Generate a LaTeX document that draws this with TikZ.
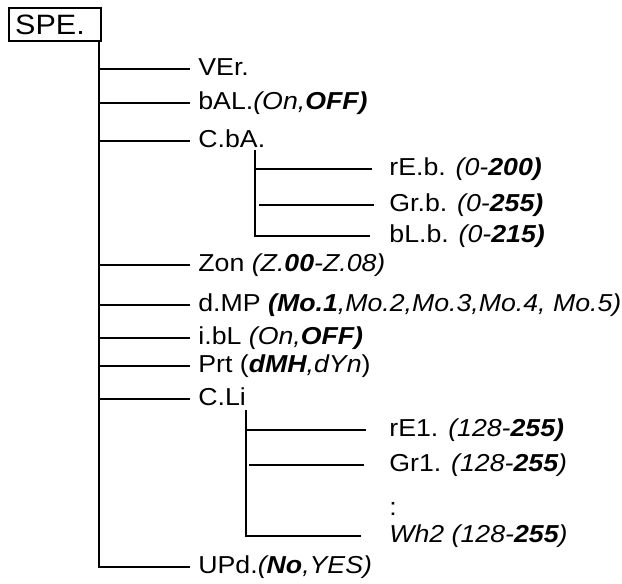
\documentclass[tikz,border=0pt]{standalone}
\usepackage{fontspec}
\setmainfont{Liberation Sans}[FakeStretch=1.09]
\usetikzlibrary{calc}

\begin{document}
\begin{tikzpicture}[x=1pt, y=-1pt, line width=2.8pt,
    item/.style={anchor=west, inner sep=0pt, font=\fontsize{24.5}{29}\selectfont,
                 text height=18pt, text depth=6pt}]

    % 画像の大きさ
    \useasboundingbox (0,0) rectangle (622,584);

    % 一番上の箱
    \node[draw, line width=2.4pt, anchor=north west, minimum width=92pt, minimum height=33pt,
          inner xsep=6pt, text width=80pt, align=left,
          font=\fontsize{28}{32}\selectfont] (spe) at (8,7) {SPE.};
    \coordinate (trunk) at (99,40);

    % 第一階層の項目
    \foreach \name/\y/\txt in {ver/69/{VEr.},
                               bal/103/{bAL.\textit{(On,\textbf{OFF)}}},
                               cba/141/{C.bA.},
                               zon/265/{Zon \textit{(Z.\textbf{00}-Z.08)}},
                               dmp/305/{d.MP \textit{\textbf{(Mo.1},Mo.2,Mo.3,Mo.4, Mo.5)}},
                               ibl/338/{i.bL \textit{(On,\textbf{OFF)}}},
                               prt/366/{Prt (\textit{\textbf{dMH},dYn})},
                               cli/399/{C.Li},
                               upd/567/{UPd.\textit{(\textbf{No},YES)}}}{
        \node[item] (\name) at (197,\y) {\txt};
    }

    % 縦の幹と横の枝
    \draw (trunk) |- ([xshift=-7pt]upd.west);
    \foreach \name in {ver,bal,cba,zon,dmp,ibl,prt,cli}
        \draw (trunk |- \name.west) -- ([xshift=-7pt]\name.west);

    % C.bA. の下の項目
    \coordinate (cbatop) at (255,150);
    \node[item] (reb) at (388,169) {rE.b. \textit{(0-\textbf{200)}}};
    \node[item] (grb) at (388,205) {Gr.b. \textit{(0-\textbf{255)}}};
    \node[item] (blb) at (388,236) {bL.b. \textit{(0-\textbf{215)}}};
    \draw (cbatop) |- ([xshift=-18pt]blb.west);
    \draw (cbatop |- reb.west) -- ([xshift=-16pt]reb.west);
    \draw ([xshift=4pt]cbatop |- grb.west) -- ([xshift=-14pt]grb.west);

    % C.Li の下の項目
    \coordinate (clitop) at (246,410);
    \node[item] (reone) at (388,430) {rE1. \textit{(128-\textbf{255)}}};
    \node[item] (grone) at (388,465) {Gr1. \textit{(128-\textbf{255})}};
    \node[item] (dots)  at (388,509) {:};
    \node[item] (whtwo) at (388,536) {\textit{Wh2 (128-\textbf{255})}};
    \draw (clitop) |- ([xshift=-27pt]whtwo.west);
    \draw (clitop |- reone.west) -- ([xshift=-22pt]reone.west);
    \draw ([xshift=3pt]clitop |- grone.west) -- ([xshift=-24pt]grone.west);

\end{tikzpicture}
\end{document}
